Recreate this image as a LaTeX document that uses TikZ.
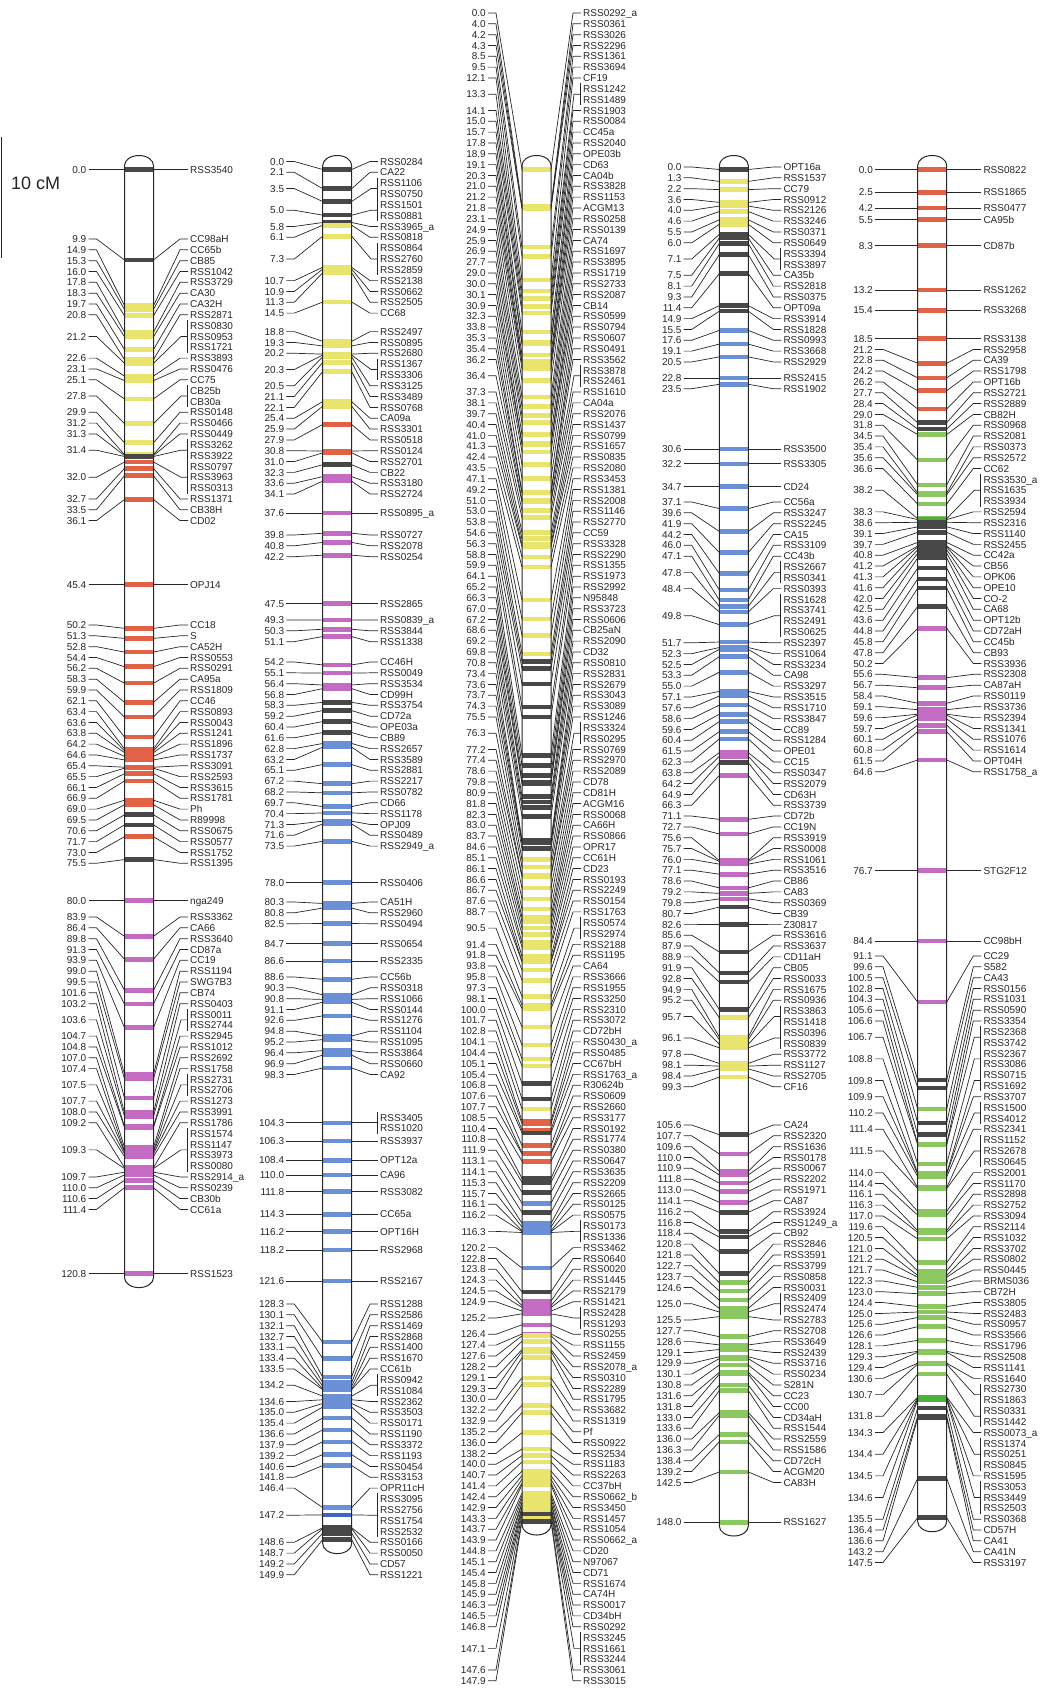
\documentclass[tikz,border=0pt]{standalone}
\usepackage{fontspec}
\setmainfont{Liberation Sans}
\usepackage{xcolor}
\definecolor{Ink}{HTML}{262626}
\definecolor{bandy}{HTML}{E9E46E}
\definecolor{bandr}{HTML}{E26248}
\definecolor{bandm}{HTML}{C46CC4}
\definecolor{bandb}{HTML}{6C90D8}
\definecolor{bandB}{HTML}{3F66C4}
\definecolor{bandg}{HTML}{8CC860}
\definecolor{bandG}{HTML}{4CB03C}
\definecolor{bandk}{HTML}{484848}
\usepackage{tikz}
\tikzstyle{cmlabel} = [anchor=east, inner sep=0pt, text height=7.3pt, text depth=0pt, font=\fontsize{10}{12}\selectfont, text=Ink]
\tikzstyle{locus} = [anchor=west, inner sep=0pt, text height=7.3pt, text depth=0pt, font=\fontsize{10}{12}\selectfont, text=Ink]
\tikzstyle{tie} = [draw=Ink, line width=0.7pt]
\tikzstyle{bar} = [draw=Ink, line width=1pt]

\newcommand{\yzero}{169.5}
\newcommand{\cmscale}{9.14}
\newcommand{\rowstep}{10.83}

% #1 group, #2 bar left, #3 cM edge, #4 name edge, #5 loci pos/colour/row/names
% row: 0 = own place, 1 = next row, else y of first row
\newcommand{\linkagegroup}[5]{%
  \xdef\lasty{-1000}
  \foreach \mpos/\mcol/\mly/\mnames [count=\i] in {#5}{
    \pgfmathsetmacro\yb{\yzero+\mpos*\cmscale}
    \xdef\lgcount{0}
    \foreach \nm in \mnames {\pgfmathtruncatemacro\lgtmp{\lgcount+1}\xdef\lgcount{\lgtmp}}
    \pgfmathsetmacro\half{(\lgcount-1)*\rowstep/2}
    \ifdim\mly pt=0pt
      \pgfmathsetmacro\ystart{max(\lasty+\rowstep,\yb-\half)}
    \else\ifdim\mly pt=1pt
      \pgfmathsetmacro\ystart{\lasty+\rowstep}
    \else
      \edef\ystart{\mly}
    \fi\fi
    \pgfmathsetmacro\ymid{\ystart+\half}
    \pgfmathsetmacro\yend{\ystart+2*\half}
    \xdef\lasty{\yend}
    \fill[band\mcol] (#2,\yb-2.3) rectangle (#2+29,\yb+2.3);
    \coordinate (#1-\i-bl) at (#2,\yb);
    \coordinate (#1-\i-br) at (#2+29,\yb);
    \node[cmlabel] (#1-\i) at (#3,\ymid) {\mpos};
    \draw[tie] ([xshift=2pt]#1-\i.east) -- ([xshift=10pt]#1-\i.east) -- (#1-\i-bl);
    \foreach \nm [count=\k] in \mnames {
      \node[locus] (#1-\i-\k) at (#4,\ystart+\k*\rowstep-\rowstep) {\nm};
    }
    \coordinate (#1-\i-tie) at (#4-3,\ymid);
    \ifnum\lgcount>1
      \draw[tie] (#1-\i-br) -- ([xshift=-6pt]#1-\i-tie) -- (#1-\i-tie);
      \draw[tie] (#4-3,\ystart-5.5) -- (#4-3,\yend+5.5);
    \else
      \draw[tie] (#1-\i-br) -- ([xshift=-7pt]#1-\i-tie) -- ([xshift=1pt]#1-\i-tie);
    \fi
  }
}

% #1 bar left, #2 top, #3 bottom
\newcommand{\chromobar}[3]{%
  \draw[bar] (#1,#2) -- (#1,#3) arc[start angle=180, end angle=360, x radius=14.5pt, y radius=10pt]
    -- (#1+29,#2) arc[start angle=0, end angle=180, x radius=14.5pt, y radius=10pt] -- cycle;
}

\begin{document}
\begin{tikzpicture}[x=1pt, y=-1pt]
  \useasboundingbox (0,0) rectangle (1041,1688);

  % scale
  \coordinate (s1) at (1.5,137);
  \coordinate (s2) at (1.5,258);
  \draw[bar] (s1) -- (s2);
  \node[locus, text height=13pt, font=\fontsize{18}{20}\selectfont] (scale) at (11,183) {10 cM};

  % group 1
  \linkagegroup{g1}{124.5}{86.5}{190}{
    0.0/k/0/RSS3540,
    9.9/k/239/CC98aH, 14.9/y/1/CC65b, 15.3/y/1/CB85, 16.0/y/1/RSS1042, 17.8/y/1/RSS3729, 18.3/y/1/CA30,
    19.7/y/1/CA32H, 20.8/y/1/RSS2871, 21.2/y/1/{RSS0830,RSS0953,RSS1721}, 22.6/y/1/RSS3893, 23.1/y/1/RSS0476,
    25.1/y/1/CC75, 27.8/y/1/{CB25b,CB30a}, 29.9/y/1/RSS0148, 31.2/y/1/RSS0466, 31.3/y/1/RSS0449,
    31.4/k/1/{RSS3262,RSS3922}, 32.0/r/1/{RSS0797,RSS3963,RSS0313}, 32.7/r/1/RSS1371, 33.5/r/1/CB38H, 36.1/r/1/CD02,
    45.4/r/0/OPJ14,
    50.2/r/625/CC18, 51.3/r/1/S, 52.8/r/1/CA52H, 54.4/r/1/RSS0553, 56.2/r/1/RSS0291, 58.3/r/1/CA95a,
    59.9/r/1/RSS1809, 62.1/r/1/CC46, 63.4/r/1/RSS0893, 63.6/r/1/RSS0043, 63.8/r/1/RSS1241, 64.2/r/1/RSS1896,
    64.6/r/1/RSS1737, 65.4/r/1/RSS3091, 65.5/r/1/RSS2593, 66.1/r/1/RSS3615, 66.9/r/1/RSS1781, 69.0/r/1/Ph,
    69.5/r/1/R89998, 70.6/k/1/RSS0675, 71.7/k/1/RSS0577, 73.0/r/1/RSS1752, 75.5/k/1/RSS1395,
    80.0/m/0/nga249,
    83.9/m/917/RSS3362, 86.4/m/1/CA66, 89.8/m/1/RSS3640, 91.3/m/1/CD87a, 93.9/m/1/CC19, 99.0/m/1/RSS1194,
    99.5/m/1/SWG7B3, 101.6/m/1/CB74, 103.2/m/1/RSS0403, 103.6/m/1/{RSS0011,RSS2744}, 104.7/m/1/RSS2945,
    104.8/m/1/RSS1012, 107.0/m/1/RSS2692, 107.4/m/1/RSS1758, 107.5/m/1/{RSS2731,RSS2706}, 107.7/m/1/RSS1273,
    108.0/m/1/RSS3991, 109.2/m/1/RSS1786, 109.3/m/1/{RSS1574,RSS1147,RSS3973,RSS0080}, 109.7/m/1/RSS2914\_a,
    110.0/m/1/RSS0239, 110.6/m/1/CB30b, 111.4/m/1/CC61a,
    120.8/m/0/RSS1523}
  \chromobar{124.5}{165.5}{1277.6}

  % group 2
  \linkagegroup{g2}{322.7}{284.3}{380}{
    0.0/k/161.5/RSS0284, 2.1/k/1/CA22, 3.5/k/1/{RSS1106,RSS0750}, 5.0/k/1/{RSS1501,RSS0881}, 5.8/k/1/RSS3965\_a,
    6.1/y/1/RSS0818, 7.3/y/1/{RSS0864,RSS2760,RSS2859}, 10.7/y/1/RSS2138, 10.9/y/1/RSS0662, 11.3/y/1/RSS2505,
    14.5/y/1/CC68,
    18.8/y/331.6/RSS2497, 19.3/y/1/RSS0895, 20.2/y/1/RSS2680, 20.3/y/1/{RSS1367,RSS3306}, 20.5/y/1/RSS3125,
    21.1/y/1/RSS3489, 22.1/y/1/RSS0768, 25.4/y/1/CA09a, 25.9/y/1/RSS3301, 27.9/r/1/RSS0518, 30.8/r/1/RSS0124,
    31.0/r/1/RSS2701, 32.3/k/1/CB22, 33.6/m/1/RSS3180, 34.1/m/1/RSS2724,
    37.6/m/0/RSS0895\_a,
    39.8/m/535/RSS0727, 40.8/m/1/RSS2078, 42.2/m/1/RSS0254,
    47.5/m/0/RSS2865,
    49.3/m/620/RSS0839\_a, 50.3/m/1/RSS3844, 51.1/m/1/RSS1338,
    54.2/m/662/CC46H, 55.1/m/1/RSS0049, 56.4/m/1/RSS3534, 56.8/m/1/CD99H, 58.3/k/1/RSS3754, 59.2/k/1/CD72a,
    60.4/k/1/OPE03a, 61.6/k/1/CB89, 62.8/b/1/RSS2657, 63.2/b/1/RSS3589, 65.1/b/1/RSS2881, 67.2/b/1/RSS2217,
    68.2/b/1/RSS0782, 69.7/b/1/CD66, 70.4/b/1/RSS1178, 71.3/b/1/OPJ09, 71.6/b/1/RSS0489, 73.5/b/1/RSS2949\_a,
    78.0/b/0/RSS0406,
    80.3/b/902/CA51H, 80.8/b/1/RSS2960, 82.5/b/1/RSS0494,
    84.7/b/0/RSS0654, 86.6/b/0/RSS2335,
    88.6/b/977/CC56b, 90.3/b/1/RSS0318, 90.8/b/1/RSS1066, 91.1/b/1/RSS0144, 92.6/b/1/RSS1276, 94.8/b/1/RSS1104,
    95.2/b/1/RSS1095, 96.4/b/1/RSS3864, 96.9/b/1/RSS0660, 98.3/b/1/CA92,
    104.3/b/0/{RSS3405,RSS1020}, 106.3/b/0/RSS3937, 108.4/b/0/OPT12a, 110.0/b/0/CA96, 111.8/b/0/RSS3082,
    114.3/b/0/CC65a, 116.2/b/0/OPT16H, 118.2/b/0/RSS2968, 121.6/b/0/RSS2167,
    128.3/b/1304/RSS1288, 130.1/b/1/RSS2586, 132.1/b/1/RSS1469, 132.7/b/1/RSS2868, 133.1/b/1/RSS1400,
    133.4/b/1/RSS1670, 133.5/b/1/CC61b, 134.2/b/1/{RSS0942,RSS1084}, 134.6/b/1/RSS2362, 135.0/b/1/RSS3503,
    135.4/b/1/RSS0171, 136.6/b/1/RSS1190, 137.9/b/1/RSS3372, 139.2/b/1/RSS1193, 140.6/b/1/RSS0454,
    141.8/b/1/RSS3153, 146.4/b/1/OPR11cH, 147.2/B/1/{RSS3095,RSS2756,RSS1754,RSS2532}, 148.6/k/1/RSS0166,
    148.7/k/1/RSS0050, 149.2/k/1/CD57, 149.9/k/1/RSS1221}
  \chromobar{322.7}{165.5}{1543.6}

  % group 3
  \linkagegroup{g3}{522}{486}{583}{
    0.0/y/13/RSS0292\_a, 4.0/y/1/RSS0361, 4.2/y/1/RSS3026, 4.3/y/1/RSS2296, 8.5/y/1/RSS1361, 9.5/y/1/RSS3694,
    12.1/y/1/CF19, 13.3/y/1/{RSS1242,RSS1489}, 14.1/y/1/RSS1903, 15.0/y/1/RSS0084, 15.7/y/1/CC45a,
    17.8/y/1/RSS2040, 18.9/y/1/OPE03b, 19.1/y/1/CD63, 20.3/y/1/CA04b, 21.0/y/1/RSS3828, 21.2/y/1/RSS1153,
    21.8/y/1/ACGM13, 23.1/y/1/RSS0258, 24.9/y/1/RSS0139, 25.9/y/1/CA74, 26.9/y/1/RSS1697, 27.7/y/1/RSS3895,
    29.0/y/1/RSS1719, 30.0/y/1/RSS2733, 30.1/y/1/RSS2087, 30.9/y/1/CB14, 32.3/y/1/RSS0599, 33.8/y/1/RSS0794,
    35.3/y/1/RSS0607, 35.4/y/1/RSS0491, 36.2/y/1/RSS3562, 36.4/y/1/{RSS3878,RSS2461}, 37.3/y/1/RSS1610,
    38.1/y/1/CA04a, 39.7/y/1/RSS2076, 40.4/y/1/RSS1437, 41.0/y/1/RSS0799, 41.3/y/1/RSS1657, 42.4/y/1/RSS0835,
    43.5/y/1/RSS2080, 47.1/y/1/RSS3453, 49.2/y/1/RSS1381, 51.0/y/1/RSS2008, 53.0/y/1/RSS1146,
    53.8/k/1/RSS2770, 54.6/k/1/CC59, 56.3/k/1/RSS3328, 58.8/k/1/RSS2290, 59.9/k/1/RSS1355, 64.1/k/1/RSS1973,
    65.2/k/1/RSS2992, 66.3/k/1/N95848, 67.0/k/1/RSS3723, 67.2/k/1/RSS0606, 68.6/k/1/CB25aN, 69.2/k/1/RSS2090,
    69.8/k/1/CD32, 70.8/k/1/RSS0810, 73.4/k/1/RSS2831, 73.6/k/1/RSS2679, 73.7/k/1/RSS3043, 74.3/k/1/RSS3089,
    75.5/y/1/RSS1246, 76.3/y/1/{RSS3324,RSS0295}, 77.2/y/1/RSS0769, 77.4/y/1/RSS2970, 78.6/y/1/RSS2089,
    79.8/y/1/CD78, 80.9/y/1/CD81H, 81.8/y/1/ACGM16, 82.3/y/1/RSS0068, 83.0/y/1/CA66H, 83.7/y/1/RSS0866,
    84.6/y/1/OPR17, 85.1/y/1/CC61H, 86.1/y/1/CD23, 86.6/y/1/RSS0193, 86.7/y/1/RSS2249, 87.6/y/1/RSS0154,
    88.7/y/1/RSS1763, 90.5/y/1/{RSS0574,RSS2974}, 91.4/y/1/RSS2188, 91.8/y/1/RSS1195, 93.8/y/1/CA64,
    95.8/y/1/RSS3666, 97.3/y/1/RSS1955, 98.1/y/1/RSS3250, 100.0/k/1/RSS2310, 101.7/k/1/RSS3072,
    102.8/y/1/CD72bH, 104.1/r/1/RSS0430\_a, 104.4/r/1/RSS0485, 105.1/r/1/CC67bH, 105.4/k/1/RSS1763\_a,
    106.8/r/1/R30624b, 107.6/r/1/RSS0609, 107.7/r/1/RSS2660, 108.5/r/1/RSS3177, 110.4/k/1/RSS0192,
    110.8/k/1/RSS1774, 111.9/k/1/RSS0380, 113.1/b/1/RSS0647, 114.1/k/1/RSS3635, 115.3/b/1/RSS2209,
    115.7/b/1/RSS2665, 116.1/b/1/RSS0125, 116.2/b/1/RSS0575, 116.3/b/1/{RSS0173,RSS1336}, 120.2/b/1/RSS3462,
    122.8/k/1/RSS0640, 123.8/m/1/RSS0020, 124.3/m/1/RSS1445, 124.5/m/1/RSS2179, 124.9/m/1/RSS1421,
    125.2/m/1/{RSS2428,RSS1293}, 126.4/m/1/RSS0255, 127.4/m/1/RSS1155, 127.6/y/1/RSS2459, 128.2/y/1/RSS2078\_a,
    129.1/y/1/RSS0310, 129.3/y/1/RSS2289, 130.0/y/1/RSS1795, 132.2/y/1/RSS3682, 132.9/y/1/RSS1319,
    135.2/y/1/Pf, 136.0/y/1/RSS0922, 138.2/y/1/RSS2534, 140.0/y/1/RSS1183, 140.7/y/1/RSS2263,
    141.4/y/1/CC37bH, 142.4/y/1/RSS0662\_b, 142.9/y/1/RSS3450, 143.3/y/1/RSS1457, 143.7/y/1/RSS1054,
    143.9/y/1/RSS0662\_a, 144.8/y/1/CD20, 145.1/y/1/N97067, 145.4/y/1/CD71, 145.8/y/1/RSS1674,
    145.9/y/1/CA74H, 146.3/y/1/RSS0017, 146.5/y/1/CD34bH, 146.8/y/1/RSS0292,
    147.1/k/1/{RSS3245,RSS1661,RSS3244}, 147.6/y/1/RSS3061, 147.9/k/1/RSS3015}
  \chromobar{522}{165.5}{1525}

  % group 4
  \linkagegroup{g4}{719.3}{681.7}{783.3}{
    0.0/k/167/OPT16a, 1.3/y/1/RSS1537, 2.2/y/1/CC79, 3.6/y/1/RSS0912, 4.0/y/1/RSS2126, 4.6/y/1/RSS3246,
    5.5/y/1/RSS0371, 6.0/y/1/RSS0649, 7.1/k/1/{RSS3394,RSS3897}, 7.5/k/1/CA35b, 8.1/k/1/RSS2818,
    9.3/k/1/RSS0375, 11.4/k/1/OPT09a, 14.9/k/1/RSS3914, 15.5/k/1/RSS1828, 17.6/b/1/RSS0993, 19.1/b/1/RSS3668,
    20.5/b/1/RSS2929,
    22.8/b/0/RSS2415, 23.5/b/0/RSS1902, 30.6/b/0/RSS3500, 32.2/b/0/RSS3305, 34.7/b/0/CD24,
    37.1/b/502/CC56a, 39.6/b/1/RSS3247, 41.9/b/1/RSS2245, 44.2/b/1/CA15, 46.0/b/1/RSS3109, 47.1/b/1/CC43b,
    47.8/b/1/{RSS2667,RSS0341}, 48.4/b/1/RSS0393, 49.8/b/1/{RSS1628,RSS3741,RSS2491,RSS0625},
    51.7/b/1/RSS2397, 52.3/b/1/RSS1064, 52.5/b/1/RSS3234, 53.3/b/1/CA98, 55.0/b/1/RSS3297, 57.1/b/1/RSS3515,
    57.6/b/1/RSS1710, 58.6/b/1/RSS3847, 59.6/b/1/CC89, 60.4/b/1/RSS1284, 61.5/b/1/OPE01, 62.3/b/1/CC15,
    63.8/m/1/RSS0347, 64.2/m/1/RSS2079, 64.9/k/1/CD63H, 66.3/m/1/RSS3739, 71.1/m/1/CD72b, 72.7/m/1/CC19N,
    75.6/m/1/RSS3919, 75.7/m/1/RSS0008, 76.0/m/1/RSS1061, 77.1/m/1/RSS3516, 78.6/m/1/CB86, 79.2/m/1/CA83,
    79.8/m/1/RSS0369, 80.7/k/1/CB39, 82.6/k/1/Z30817, 85.6/k/1/RSS3616, 87.9/k/1/RSS3637, 88.9/k/1/CD11aH,
    91.9/k/1/CB05, 92.8/y/1/RSS0033, 94.9/y/1/RSS1675, 95.2/y/1/RSS0936, 95.7/y/1/{RSS3863,RSS1418},
    96.1/y/1/{RSS0396,RSS0839}, 97.8/y/1/RSS3772, 98.1/y/1/RSS1127, 98.4/y/1/RSS2705, 99.3/y/1/CF16,
    105.6/k/1125/CA24, 107.7/m/1/RSS2320, 109.6/m/1/RSS1636, 110.0/m/1/RSS0178, 110.9/m/1/RSS0067,
    111.8/m/1/RSS2202, 113.0/m/1/RSS1971, 114.1/k/1/CA87, 116.2/k/1/RSS3924, 116.8/k/1/RSS1249\_a,
    118.4/k/1/CB92, 120.8/k/1/RSS2846, 121.8/g/1/RSS3591, 122.7/g/1/RSS3799, 123.7/g/1/RSS0858,
    124.6/g/1/RSS0031, 125.0/g/1/{RSS2409,RSS2474}, 125.5/g/1/RSS2783, 127.7/g/1/RSS2708, 128.6/g/1/RSS3649,
    129.1/g/1/RSS2439, 129.9/g/1/RSS3716, 130.1/g/1/RSS0234, 130.8/g/1/S281N, 131.6/g/1/CC23,
    131.8/g/1/CC00, 133.0/g/1/CD34aH, 133.6/g/1/RSS1544, 136.0/g/1/RSS2559, 136.3/g/1/RSS1586,
    138.4/g/1/CD72cH, 139.2/g/1/ACGM20, 142.5/g/1/CA83H,
    148.0/g/0/RSS1627}
  \chromobar{719.3}{165.5}{1526}

  % group 5
  \linkagegroup{g5}{917.7}{873}{983.3}{
    0.0/r/0/RSS0822, 2.5/r/0/RSS1865, 4.2/r/0/RSS0477, 5.5/r/0/CA95b, 8.3/r/0/CD87b, 13.2/r/0/RSS1262,
    15.4/r/0/RSS3268,
    18.5/r/0/RSS3138, 21.2/r/1/RSS2958, 22.8/r/1/CA39, 24.2/r/1/RSS1798, 26.2/r/1/OPT16b, 27.7/k/1/RSS2721,
    28.4/k/1/RSS2889, 29.0/g/1/CB82H, 31.8/g/1/RSS0968, 34.5/g/1/RSS2081, 35.4/g/1/RSS0373, 35.6/g/1/RSS2572,
    36.6/g/1/CC62, 38.2/g/1/{RSS3530\_a,RSS1635,RSS3934}, 38.3/G/1/RSS2594, 38.6/k/1/RSS2316,
    39.1/k/1/RSS1140, 39.7/k/1/RSS2455, 40.8/k/1/CC42a, 41.2/k/1/CB56, 41.3/k/1/OPK06, 41.6/k/1/OPE10,
    42.0/k/1/CO-2, 42.5/k/1/CA68, 43.6/k/1/OPT12b, 44.8/k/1/CD72aH, 45.8/k/1/CC45b, 47.8/k/1/CB93,
    50.2/m/1/RSS3936, 55.6/m/1/RSS2308, 56.7/m/1/CA87aH, 58.4/m/1/RSS0119, 59.1/m/1/RSS3736,
    59.6/m/1/RSS2394, 59.7/m/1/RSS1341, 60.1/m/1/RSS1076, 60.8/m/1/RSS1614, 61.5/m/1/OPT04H,
    64.6/m/1/RSS1758\_a,
    76.7/m/0/STG2F12, 84.4/m/0/CC98bH,
    91.1/m/956/CC29, 99.6/k/1/S582, 100.5/k/1/CA43, 102.8/g/1/RSS0156, 104.3/k/1/RSS1031, 105.6/k/1/RSS0590,
    106.6/g/1/RSS3354, 106.7/g/1/{RSS2368,RSS3742}, 108.8/g/1/{RSS2367,RSS3086}, 109.8/g/1/{RSS0715,RSS1692},
    109.9/g/1/RSS3707, 110.2/g/1/{RSS1500,RSS4012}, 111.4/g/1/RSS2341, 111.5/g/1/{RSS1152,RSS2678,RSS0645},
    114.0/g/1/RSS2001, 114.4/g/1/RSS1170, 116.1/g/1/RSS2898, 116.3/g/1/RSS2752, 117.0/g/1/RSS3094,
    119.6/g/1/RSS2114, 120.5/g/1/RSS1032, 121.0/g/1/RSS3702, 121.2/g/1/RSS0802, 121.7/g/1/RSS0445,
    122.3/g/1/BRMS036, 123.0/g/1/CB72H, 124.4/g/1/RSS3805, 125.0/g/1/RSS2483, 125.6/g/1/RSS0957,
    126.6/g/1/RSS3566, 128.1/g/1/RSS1796, 129.3/g/1/RSS2508, 129.4/g/1/RSS1141, 130.6/g/1/RSS1640,
    130.7/g/1/{RSS2730,RSS1863}, 131.8/g/1/{RSS0331,RSS1442}, 134.3/G/1/RSS0073\_a,
    134.4/G/1/{RSS1374,RSS0251,RSS0845}, 134.5/G/1/RSS1595, 134.6/G/1/{RSS3053,RSS3449,RSS2503},
    135.5/k/1/RSS0368, 136.4/k/1/CD57H, 136.6/k/1/CA41, 143.2/k/1/CA41N, 147.5/k/1/RSS3197}
  \chromobar{917.7}{165.5}{1521.7}
\end{tikzpicture}
\end{document}
